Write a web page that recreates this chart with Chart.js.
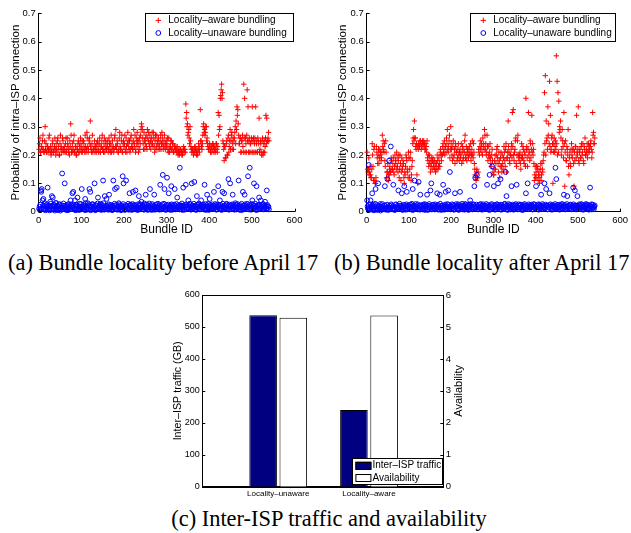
<!DOCTYPE html>
<html><head><meta charset="utf-8">
<script src="https://cdn.jsdelivr.net/npm/chart.js@4/dist/chart.umd.min.js"></script>
<style>
html,body{margin:0;padding:0;background:#fff;}
body{width:631px;height:533px;position:relative;overflow:hidden;}
canvas{position:absolute;}
.cap{position:absolute;font-family:'Liberation Serif','Times New Roman',serif;font-size:22.4px;color:#000;white-space:nowrap;line-height:1;}
</style></head><body>
<canvas id="ca" width="315" height="245" style="left:0;top:0"></canvas>
<canvas id="cb" width="315" height="245" style="left:316px;top:0"></canvas>
<canvas id="cc" width="330" height="225" style="left:150px;top:280px"></canvas>
<div class="cap" style="left:8px;top:252px">(a) Bundle locality before April 17</div>
<div class="cap" style="left:334px;top:252px">(b) Bundle locality after April 17</div>
<div class="cap" style="left:129px;width:400px;text-align:center;top:508px">(c) Inter-ISP traffic and availability</div>
<script>
// ---------- data ----------
const bundleIds = Array.from({length: 540}, (_, i) => i + 1);

const beforeAware = [
.22,.24,.26,.21,.21,.23,.23,.22,.25,.27,.22,.21,.21,.25,.30,.22,.24,.21,.21,.23,
.23,.21,.22,.26,.27,.22,.21,.23,.20,.21,.22,.24,.25,.21,.21,.22,.23,.26,.22,.20,
.24,.22,.21,.25,.26,.23,.22,.20,.20,.24,.27,.22,.23,.21,.22,.26,.25,.22,.21,.23,
.22,.21,.24,.26,.21,.22,.26,.24,.23,.21,.22,.20,.25,.23,.31,.27,.21,.22,.24,.21,
.22,.25,.27,.21,.21,.23,.23,.20,.20,.22,.22,.24,.25,.21,.21,.23,.24,.26,.22,.21,
.23,.25,.21,.22,.25,.24,.22,.21,.27,.23,.21,.22,.28,.26,.23,.21,.22,.25,.26,.24,
.32,.23,.22,.21,.24,.27,.21,.22,.22,.23,.25,.21,.23,.22,.21,.24,.22,.25,.24,.21,
.22,.24,.26,.21,.21,.23,.23,.25,.27,.22,.22,.21,.24,.26,.21,.23,.25,.22,.22,.24,
.23,.25,.21,.22,.26,.24,.22,.21,.24,.27,.21,.23,.25,.22,.23,.21,.22,.26,.27,.23,
.29,.23,.22,.25,.24,.21,.21,.22,.26,.28,.23,.22,.22,.25,.27,.21,.21,.24,.25,.23,
.24,.27,.22,.21,.26,.23,.21,.24,.28,.25,.23,.22,.25,.21,.22,.26,.27,.23,.24,.22,
.22,.25,.29,.23,.24,.27,.21,.22,.26,.24,.28,.25,.23,.21,.25,.26,.22,.24,.27,.29,
.31,.30,.29,.26,.24,.22,.28,.25,.22,.24,.26,.27,.23,.22,.29,.26,.25,.28,.24,.23,
.27,.25,.22,.24,.26,.28,.24,.23,.28,.26,.23,.21,.25,.27,.22,.23,.27,.25,.24,.22,
.26,.24,.23,.22,.25,.27,.22,.24,.28,.26,.24,.22,.23,.25,.27,.23,.22,.24,.25,.23,
.24,.26,.22,.21,.26,.23,.21,.22,.23,.25,.25,.22,.22,.24,.24,.21,.21,.23,.23,.22,
.22,.23,.21,.22,.23,.21,.20,.21,.22,.20,.21,.22,.22,.21,.21,.20,.20,.21,.22,.23,
.21,.22,.22,.21,.38,.33,.35,.30,.31,.27,.28,.29,.26,.24,.30,.25,.23,.22,.21,.22,
.22,.21,.20,.22,.21,.23,.23,.22,.21,.20,.22,.21,.20,.22,.24,.22,.21,.23,.36,.25,
.25,.23,.22,.24,.27,.30,.31,.28,.29,.27,.28,.30,.30,.25,.26,.24,.23,.22,.22,.23,
.24,.22,.21,.23,.23,.21,.22,.24,.24,.23,.21,.22,.23,.21,.22,.24,.24,.22,.21,.23,
.35,.27,.34,.29,.30,.40,.41,.43,.45,.40,.42,.25,.24,.22,.18,.23,.23,.19,.19,.24,
.25,.20,.20,.26,.27,.21,.23,.25,.29,.22,.25,.27,.28,.22,.24,.26,.22,.25,.26,.28,
.30,.24,.32,.29,.37,.34,.36,.31,.27,.24,.24,.26,.26,.21,.21,.25,.25,.27,.23,.21,
.45,.26,.40,.21,.26,.24,.21,.27,.43,.25,.37,.21,.25,.26,.21,.24,.24,.21,.26,.25,
.37,.21,.25,.26,.21,.24,.26,.21,.37,.25,.24,.21,.21,.26,.25,.24,.33,.21,.22,.25,
.24,.21,.20,.25,.26,.20,.21,.24,.25,.21,.23,.26,.34,.24,.33,.25,.25,.26,.28,.25
];
const beforeUnaware = [
.010,.018,.006,.025,.075,.070,.080,.012,.040,.021,.045,.008,.012,.030,.020,.005,.008,.017,.016,.026,
.085,.009,.011,.022,.005,.014,.035,.028,.018,.007,.055,.019,.050,.011,.009,.024,.022,.004,.014,.031,
.030,.013,.007,.021,.019,.006,.012,.026,.026,.011,.004,.018,.015,.023,.135,.009,.010,.029,.021,.014,
.100,.008,.013,.022,.006,.016,.024,.005,.011,.027,.017,.012,.008,.019,.040,.026,.020,.009,.065,.015,
.070,.022,.012,.007,.040,.018,.005,.025,.023,.011,.050,.020,.010,.006,.018,.028,.007,.013,.027,.017,
.080,.009,.014,.024,.009,.016,.021,.006,.045,.030,.006,.012,.016,.022,.030,.008,.011,.026,.080,.019,
.070,.005,.019,.015,.008,.027,.025,.010,.012,.020,.100,.007,.005,.023,.022,.013,.013,.029,.050,.009,
.017,.022,.009,.012,.028,.018,.006,.025,.020,.011,.110,.030,.014,.007,.055,.016,.010,.021,.045,.009,
.019,.012,.007,.026,.060,.008,.024,.017,.012,.023,.015,.006,.006,.020,.110,.013,.021,.028,.080,.010,
.011,.024,.085,.007,.017,.019,.008,.030,.026,.012,.013,.021,.005,.016,.022,.009,.125,.027,.100,.014,
.016,.006,.009,.023,.110,.018,.020,.011,.012,.028,.007,.015,.065,.009,.025,.022,.014,.006,.018,.027,
.070,.013,.008,.024,.021,.011,.075,.019,.011,.007,.016,.026,.006,.014,.055,.021,.027,.010,.013,.025,
.035,.017,.010,.023,.019,.008,.007,.029,.024,.012,.060,.016,.012,.025,.018,.006,.009,.020,.029,.014,
.080,.022,.014,.009,.006,.027,.022,.013,.011,.019,.060,.007,.017,.024,.008,.015,.026,.010,.013,.028,
.019,.011,.007,.023,.095,.016,.021,.008,.010,.026,.130,.012,.015,.028,.080,.018,.009,.006,.024,.020,
.120,.010,.012,.025,.065,.009,.018,.021,.006,.014,.090,.026,.023,.007,.011,.019,.016,.025,.080,.012,
.008,.020,.027,.011,.050,.017,.013,.024,.019,.008,.155,.022,.010,.016,.022,.029,.006,.013,.085,.021,
.015,.007,.024,.018,.095,.026,.009,.012,.018,.023,.040,.010,.012,.027,.028,.015,.007,.020,.100,.011,
.021,.014,.011,.028,.105,.009,.016,.022,.006,.017,.055,.024,.025,.012,.013,.029,.019,.008,.009,.021,
.040,.016,.022,.010,.014,.025,.008,.019,.095,.013,.027,.006,.011,.023,.060,.017,.017,.028,.006,.012,
.045,.024,.020,.009,.012,.018,.026,.014,.009,.021,.070,.011,.015,.027,.023,.008,.007,.019,.018,.025,
.090,.016,.011,.022,.040,.009,.024,.013,.006,.018,.070,.028,.016,.010,.065,.021,.021,.014,.010,.026,
.028,.012,.014,.020,.115,.007,.008,.025,.100,.017,.022,.009,.013,.026,.060,.011,.018,.023,.007,.015,
.030,.019,.025,.008,.012,.027,.019,.014,.110,.021,.009,.006,.023,.017,.014,.028,.006,.011,.070,.020,
.021,.009,.060,.026,.011,.015,.017,.022,.028,.010,.125,.018,.008,.024,.155,.013,.020,.007,.013,.027,
.040,.016,.024,.011,.100,.021,.010,.028,.016,.006,.090,.019,.007,.023,.022,.012,.050,.025,.012,.009,
.040,.020,.018,.013,.009,.027,.026,.008,.014,.022,.035,.016,.021,.011,.075,.024,.011,.019,.017,.008
];
const afterAware = [
.21,.15,.14,.15,.19,.13,.14,.16,.13,.12,.12,.15,.24,.20,.16,.11,.22,.23,.11,.10,
.10,.12,.23,.21,.19,.17,.20,.22,.17,.19,.22,.20,.21,.18,.19,.21,.27,.23,.25,.22,
.21,.24,.18,.16,.25,.21,.12,.14,.14,.17,.11,.13,.13,.15,.16,.14,.14,.19,.18,.15,
.15,.17,.19,.14,.13,.16,.20,.18,.17,.15,.21,.19,.16,.14,.18,.20,.12,.15,.20,.17,
.11,.14,.19,.16,.15,.18,.17,.12,.10,.14,.13,.16,.20,.19,.18,.15,.14,.12,.21,.19,
.12,.15,.19,.21,.11,.13,.16,.18,.24,.26,.29,.25,.32,.26,.26,.23,.22,.24,.13,.23,
.10,.22,.24,.23,.23,.25,.25,.24,.22,.23,.24,.25,.23,.24,.25,.23,.24,.22,.22,.24,
.23,.21,.25,.19,.18,.20,.16,.17,.20,.18,.14,.16,.17,.19,.15,.18,.19,.17,.16,.15,
.18,.16,.14,.17,.17,.15,.20,.18,.15,.16,.19,.17,.16,.21,.22,.20,.18,.20,.20,.23,
.24,.21,.22,.25,.20,.23,.23,.21,.26,.24,.29,.22,.21,.23,.25,.27,.19,.22,.30,.24,
.22,.20,.18,.23,.25,.19,.20,.22,.17,.24,.23,.21,.21,.18,.19,.22,.24,.20,.18,.21,
.22,.19,.20,.24,.17,.21,.23,.18,.19,.22,.21,.25,.27,.19,.20,.23,.18,.21,.22,.20,
.19,.22,.23,.20,.21,.24,.18,.20,.22,.25,.20,.19,.24,.21,.17,.15,.13,.12,.11,.14,
.15,.12,.12,.14,.22,.21,.20,.23,.25,.22,.23,.24,.21,.20,.26,.23,.24,.22,.29,.27,
.22,.24,.20,.21,.27,.23,.18,.20,.23,.19,.21,.24,.19,.17,.16,.20,.22,.18,.14,.13,
.13,.15,.18,.20,.15,.17,.20,.22,.23,.19,.17,.14,.21,.18,.12,.16,.19,.21,.16,.14,
.20,.17,.15,.19,.23,.21,.18,.16,.22,.24,.14,.19,.19,.21,.32,.23,.21,.18,.17,.20,
.20,.22,.24,.19,.35,.23,.36,.20,.18,.21,.22,.25,.26,.17,.16,.20,.25,.27,.20,.19,
.18,.20,.21,.17,.15,.19,.24,.20,.19,.23,.22,.18,.17,.21,.20,.16,.40,.22,.23,.19,
.16,.22,.35,.20,.21,.18,.25,.24,.19,.22,.34,.21,.24,.20,.22,.17,.11,.13,.16,.12,
.14,.16,.12,.15,.16,.11,.13,.14,.10,.12,.15,.17,.11,.13,.17,.15,.14,.18,.20,.21,
.42,.24,.48,.20,.32,.25,.26,.22,.37,.27,.31,.24,.46,.23,.34,.21,.22,.26,.27,.24,
.10,.21,.24,.26,.21,.23,.25,.22,.55,.24,.46,.20,.42,.21,.39,.28,.30,.29,.32,.26,
.20,.22,.29,.25,.23,.19,.35,.24,.09,.21,.25,.18,.18,.23,.22,.20,.29,.16,.13,.19,
.21,.17,.16,.22,.24,.20,.19,.22,.22,.17,.09,.21,.18,.23,.23,.19,.34,.21,.20,.22,
.37,.18,.17,.21,.22,.19,.19,.23,.24,.20,.21,.24,.18,.17,.23,.22,.26,.20,.20,.21,
.22,.24,.19,.21,.24,.22,.21,.23,.23,.24,.25,.22,.19,.21,.35,.27,.28,.24,.24,.26
];
const afterUnaware = [
.040,.019,.012,.008,.165,.024,.007,.014,.040,.026,.019,.009,.065,.021,.010,.005,.024,.017,.006,.028,
.080,.012,.015,.023,.009,.006,.100,.018,.021,.011,.011,.027,.004,.015,.017,.008,.027,.020,.013,.010,
.008,.022,.090,.014,.020,.007,.012,.025,.115,.016,.006,.009,.180,.021,.014,.012,.230,.026,.022,.008,
.010,.019,.095,.013,.018,.006,.007,.024,.026,.015,.012,.009,.016,.022,.075,.011,.009,.028,.021,.014,
.013,.020,.065,.008,.006,.017,.024,.012,.090,.023,.011,.007,.019,.026,.070,.010,.008,.021,.015,.018,
.023,.009,.010,.025,.017,.013,.028,.006,.080,.019,.007,.022,.110,.011,.014,.027,.020,.016,.012,.008,
.026,.014,.105,.020,.009,.007,.060,.023,.016,.018,.022,.010,.008,.025,.013,.021,.027,.006,.011,.017,
.018,.024,.060,.009,.006,.016,.021,.027,.015,.012,.075,.019,.100,.008,.010,.023,.025,.014,.013,.020,
.008,.026,.019,.011,.012,.017,.065,.022,.024,.007,.009,.015,.060,.028,.016,.010,.006,.021,.022,.013,
.095,.018,.013,.007,.020,.025,.070,.012,.010,.019,.027,.009,.075,.024,.015,.011,.140,.021,.008,.017,
.018,.026,.011,.013,.024,.008,.007,.022,.065,.015,.016,.027,.021,.010,.012,.019,.026,.006,.009,.023,
.070,.017,.015,.009,.022,.028,.008,.014,.019,.021,.013,.007,.027,.025,.010,.016,.017,.012,.024,.020,
.006,.023,.014,.010,.040,.027,.021,.015,.011,.008,.018,.024,.026,.013,.090,.019,.120,.011,.013,.025,
.130,.016,.020,.008,.009,.023,.016,.012,.025,.027,.012,.018,.007,.010,.022,.026,.015,.009,.019,.014,
.010,.021,.027,.016,.095,.009,.013,.024,.018,.006,.130,.020,.008,.014,.023,.027,.160,.012,.011,.019,
.090,.024,.016,.007,.021,.015,.009,.026,.026,.011,.100,.018,.014,.022,.019,.008,.115,.025,.007,.013,
.023,.017,.012,.009,.017,.026,.028,.014,.140,.019,.055,.022,.010,.006,.020,.027,.015,.011,.024,.016,
.008,.021,.090,.013,.018,.025,.013,.007,.022,.016,.011,.023,.027,.012,.095,.020,.016,.008,.009,.026,
.021,.010,.014,.024,.025,.017,.010,.006,.019,.022,.007,.013,.023,.027,.016,.009,.065,.021,.012,.015,
.100,.018,.026,.011,.009,.023,.018,.014,.013,.025,.022,.008,.008,.019,.017,.027,.024,.012,.011,.016,
.090,.021,.015,.009,.020,.026,.007,.013,.025,.018,.012,.022,.060,.010,.018,.027,.010,.014,.023,.017,
.100,.011,.014,.025,.080,.019,.021,.008,.009,.016,.017,.023,.065,.012,.026,.020,.012,.007,.019,.024,
.008,.018,.022,.013,.015,.027,.155,.010,.115,.022,.011,.016,.024,.009,.016,.025,.007,.021,.020,.012,
.013,.026,.027,.011,.010,.018,.060,.023,.018,.008,.023,.014,.009,.027,.055,.012,.016,.020,.021,.010,
.012,.024,.025,.009,.008,.016,.019,.022,.085,.026,.014,.011,.075,.017,.022,.008,.011,.021,.055,.013,
.017,.009,.026,.022,.009,.014,.020,.027,.013,.008,.024,.019,.007,.016,.018,.023,.015,.011,.027,.020,
.010,.025,.022,.012,.016,.007,.012,.021,.085,.018,.020,.026,.008,.013,.025,.017,.014,.009,.018,.022
];
const bundleTicks = [0, 100, 200, 300, 400, 500, 600];
const probTicks = [0, 0.1, 0.2, 0.3, 0.4, 0.5, 0.6, 0.7];

const barGroups = ['Locality\u2013unaware', 'Locality\u2013aware'];
const trafficGB = [537, 240];
const availability = [5.29, 5.36];
const trafficTicks = [0, 100, 200, 300, 400, 500, 600];
const availTicks = [0, 1, 2, 3, 4, 5, 6];

// ---------- helpers ----------
const SANS = "'Liberation Sans', Arial, Helvetica, sans-serif";
const toPoints = vals => vals.map((v, i) => ({x: bundleIds[i], y: v}));

const inTicks = {
  id: 'inTicks',
  afterDraw(chart, args, o) {
    const ctx = chart.ctx, ca = chart.chartArea, L = o.len || 3;
    ctx.save();
    ctx.strokeStyle = '#000'; ctx.lineWidth = 1;
    ctx.beginPath();
    for (const id of Object.keys(chart.scales)) {
      if (o.skip && o.skip.includes(id)) continue;
      const s = chart.scales[id];
      s.ticks.forEach((t, i) => {
        const p = s.getPixelForTick(i);
        if (s.isHorizontal()) {
          const x = Math.round(p) + 0.5;
          ctx.moveTo(x, ca.bottom); ctx.lineTo(x, ca.bottom - L);
        } else {
          const y = Math.round(p) + 0.5;
          if (s.position === 'right') { ctx.moveTo(ca.right, y); ctx.lineTo(ca.right - L, y); }
          else { ctx.moveTo(ca.left, y); ctx.lineTo(ca.left + L, y); }
        }
      });
    }
    ctx.stroke();
    if (o.box) {
      ctx.strokeRect(Math.round(ca.left) + 0.5, Math.round(ca.top) + 0.5,
                     Math.round(ca.right) - Math.round(ca.left), Math.round(ca.bottom) - Math.round(ca.top));
    }
    if (o.rightTitle) {
      ctx.fillStyle = '#000';
      ctx.font = o.rightTitle.font;
      ctx.textAlign = 'center'; ctx.textBaseline = 'middle';
      ctx.translate(ca.right + o.rightTitle.offset, (ca.top + ca.bottom) / 2);
      ctx.rotate(-Math.PI / 2);
      ctx.fillText(o.rightTitle.text, 0, 0);
    }
    ctx.restore();
  }
};

const boxLegend = {
  id: 'boxLegend',
  afterDraw(chart, args, o) {
    if (!o || !o.display) return;
    const ctx = chart.ctx, ca = chart.chartArea;
    const left = Math.round(ca.right - o.right - o.width);
    const top = Math.round(o.anchor === 'bottom' ? ca.bottom - o.bottom - o.height : ca.top + o.top);
    ctx.save();
    ctx.fillStyle = '#fff';
    ctx.fillRect(left, top, o.width, o.height);
    ctx.strokeStyle = '#000'; ctx.lineWidth = 1;
    ctx.strokeRect(left + 0.5, top + 0.5, Math.round(o.width), Math.round(o.height));
    ctx.font = o.font; ctx.textBaseline = 'middle'; ctx.textAlign = 'left';
    o.order.forEach((di, row) => {
      const ds = chart.data.datasets[di];
      const y = top + o.rowY[row];
      const mx = left + o.markerX;
      if (o.kind === 'point') {
        ctx.strokeStyle = ds.pointBorderColor; ctx.lineWidth = 1;
        ctx.beginPath();
        if (ds.pointStyle === 'cross') {
          const r = ds.pointRadius;
          ctx.moveTo(mx - r, y); ctx.lineTo(mx + r, y);
          ctx.moveTo(mx, y - r); ctx.lineTo(mx, y + r);
        } else {
          ctx.arc(mx, y, ds.pointRadius, 0, Math.PI * 2);
        }
        ctx.stroke();
      } else {
        ctx.fillStyle = ds.backgroundColor;
        ctx.fillRect(mx, y - o.swH / 2, o.swW, o.swH);
        ctx.strokeStyle = ds.borderColor; ctx.lineWidth = 1;
        ctx.strokeRect(mx + 0.5, Math.round(y - o.swH / 2) + 0.5, o.swW - 1, o.swH - 1);
      }
      ctx.fillStyle = '#000';
      ctx.fillText(ds.label, left + o.textX, y);
    });
    ctx.restore();
  }
};

function scatterChart(canvasId, aware, unaware, L) {
  return new Chart(document.getElementById(canvasId), {
    type: 'scatter',
    data: { datasets: [
      { label: 'Locality\u2013aware bundling', data: toPoints(aware),
        pointStyle: 'cross', pointRadius: 2.7, pointBorderWidth: 1,
        pointBorderColor: '#ff0000', pointBackgroundColor: '#ff0000', order: 1, clip: false },
      { label: 'Locality\u2013unaware bundling', data: toPoints(unaware),
        pointStyle: 'circle', pointRadius: 2.4, pointBorderWidth: 1,
        pointBorderColor: '#0000ff', pointBackgroundColor: 'rgba(0,0,0,0)', order: 0, clip: false }
    ]},
    options: {
      responsive: false, animation: false, events: [],
      layout: { padding: L.pad },
      plugins: {
        legend: { display: false }, tooltip: { enabled: false },
        inTicks: { len: 3 },
        boxLegend: { display: true, kind: 'point', anchor: 'top', top: 0, right: L.legRight, width: L.legW, height: 27.5,
                     markerX: 13.3, textX: 23.3, rowY: [7.4, 20], order: [0, 1], font: '10px ' + SANS }
      },
      scales: {
        x: { type: 'linear', min: 0, max: 600,
             afterBuildTicks: s => { s.ticks = bundleTicks.map(v => ({value: v})); },
             afterFit: s => { s.height = L.xh; },
             grid: { display: false, drawTicks: false },
             border: { display: true, color: '#000', width: 1 },
             ticks: { padding: 3, color: '#000', maxRotation: 0, autoSkip: false, font: { family: SANS, size: 9.5 } },
             title: { display: true, text: 'Bundle ID', color: '#000', padding: 0, font: { family: SANS, size: 12 } } },
        y: { type: 'linear', min: 0, max: 0.7,
             afterBuildTicks: s => { s.ticks = probTicks.map(v => ({value: v})); },
             afterFit: s => { s.width = L.yw; },
             grid: { display: false, drawTicks: false },
             border: { display: true, color: '#000', width: 1 },
             ticks: { padding: 3, color: '#000', autoSkip: false, font: { family: SANS, size: 9.5 },
                      callback: v => v === 0 ? '0' : v.toFixed(1) },
             title: { display: true, text: 'Probability of intra\u2013ISP connection', color: '#000', padding: 0,
                      font: { family: SANS, size: 11.5 } } }
      }
    },
    plugins: [inTicks, boxLegend]
  });
}

scatterChart('ca', beforeAware, beforeUnaware,
  { pad: { left: 8.9, right: 20.5, top: 13.3, bottom: 7.8 }, xh: 25.5, yw: 29.8, legRight: 1.5, legW: 148 });
scatterChart('cb', afterAware, afterUnaware,
  { pad: { left: 20.1, right: 9, top: 13.3, bottom: 7.8 }, xh: 25.5, yw: 30.6, legRight: 4.7, legW: 145 });

new Chart(document.getElementById('cc'), {
  type: 'bar',
  data: { datasets: [
    { label: 'Inter\u2013ISP traffic', data: trafficGB.map((v, i) => ({x: i + 1, y: v})), yAxisID: 'y',
      backgroundColor: '#000080', borderColor: '#000', borderWidth: 1,
      categoryPercentage: 0.665, barPercentage: 0.914 },
    { label: 'Availability', data: availability.map((v, i) => ({x: i + 1, y: v})), yAxisID: 'y2',
      backgroundColor: '#ffffff', borderColor: '#000', borderWidth: 1,
      categoryPercentage: 0.665, barPercentage: 0.914 }
  ]},
  options: {
    responsive: false, animation: false, events: [],
    layout: { padding: { left: 21.9, right: 14.1, top: 15, bottom: 6.2 } },
    plugins: {
      legend: { display: false }, tooltip: { enabled: false },
      inTicks: { len: 3, skip: ['x'], box: true,
                 rightTitle: { text: 'Availability', font: '11px ' + SANS, offset: 16 } },
      boxLegend: { display: true, kind: 'bar', anchor: 'bottom', bottom: 2.7, right: 0.6, width: 90.4, height: 26.3,
                   markerX: 3.4, textX: 20.4, rowY: [7.6, 19.9], swW: 16, swH: 8, order: [0, 1], font: '10px ' + SANS }
    },
    scales: {
      x: { type: 'linear', min: 0.164, max: 2.818, offset: false,
           afterBuildTicks: s => { s.ticks = barGroups.map((g, i) => ({value: i + 1})); },
           afterFit: s => { s.height = 12.1; },
           grid: { display: false, drawTicks: false },
           border: { display: true, color: '#000', width: 1 },
           ticks: { padding: 2.5, color: '#000', maxRotation: 0, autoSkip: false, font: { family: SANS, size: 8 },
                    callback: v => barGroups[Math.round(v) - 1] } },
      y: { type: 'linear', position: 'left', min: 0, max: 600,
           afterBuildTicks: s => { s.ticks = trafficTicks.map(v => ({value: v})); },
           afterFit: s => { s.width = 30.4; },
           grid: { display: false, drawTicks: false },
           border: { display: true, color: '#000', width: 1 },
           ticks: { padding: 2.5, color: '#000', autoSkip: false, font: { family: SANS, size: 9 } },
           title: { display: true, text: 'Inter\u2013ISP traffic (GB)', color: '#000', padding: 0,
                    font: { family: SANS, size: 10.7 } } },
      y2: { type: 'linear', position: 'right', min: 0, max: 6,
            afterBuildTicks: s => { s.ticks = availTicks.map(v => ({value: v})); },
            afterFit: s => { s.width = 22.6; },
            grid: { display: false, drawTicks: false },
            border: { display: true, color: '#000', width: 1 },
            ticks: { padding: 2.5, color: '#000', autoSkip: false, font: { family: SANS, size: 9.5 } } }
    }
  },
  plugins: [inTicks, boxLegend]
});
</script>
</body></html>
